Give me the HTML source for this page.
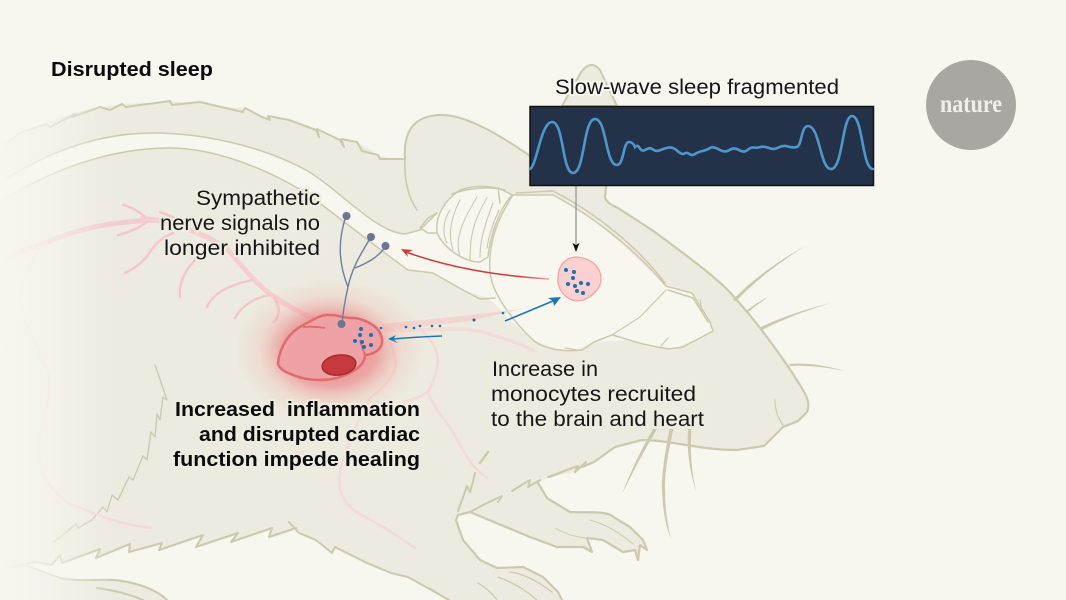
<!DOCTYPE html>
<html><head><meta charset="utf-8"><style>html,body{margin:0;padding:0;background:#f7f6ef}svg{display:block}text{font-family:"Liberation Sans",sans-serif;fill:#15151a}</style></head><body>
<svg width="1066" height="600" viewBox="0 0 1066 600" xmlns="http://www.w3.org/2000/svg">
<defs>
<linearGradient id="fade" x1="0" x2="1" y1="0" y2="0"><stop offset="0" stop-color="#f7f6ef" stop-opacity="1"/><stop offset=".4" stop-color="#f7f6ef" stop-opacity=".72"/><stop offset="1" stop-color="#f7f6ef" stop-opacity="0"/></linearGradient>
<radialGradient id="glow"><stop offset="0" stop-color="#e8696c" stop-opacity=".9"/><stop offset=".5" stop-color="#ea8386" stop-opacity=".65"/><stop offset=".75" stop-color="#eeb0a8" stop-opacity=".25"/><stop offset="1" stop-color="#eeb0a8" stop-opacity="0"/></radialGradient>
<linearGradient id="redl" gradientUnits="userSpaceOnUse" x1="401" y1="250" x2="549" y2="279"><stop offset="0" stop-color="#cc3a3a"/><stop offset=".8" stop-color="#cc3a3a"/><stop offset="1" stop-color="#eba5a0"/></linearGradient>
</defs>
<rect width="1066" height="600" fill="#f7f6ef"/>

<!-- far ear -->
<path d="M562,106 L580,74 Q590,58 600,70 L617,106 Z" fill="#edebdf" stroke="#cdc9ae" stroke-width="2"/>

<!-- body -->
<path fill="#edebdf" d="M0,148 L20,132 48,122 73,113 100,107 122,104 170,102 200,102 221,107 245,108 262,117 289,120 316,130 340,140 357,142 378,155 391,159 405,159 C405,130 415,115 442,115 C470,115 510,142 533,155 L606,187 605,197 Q606,203 618,208 L652,230 C690,258 720,280 734,297 C760,325 790,368 803,390 Q811,403 807,412 L798,421 783,427 764,446 737,450 C700,450 670,440 642,440 L615,447 594,462 582,467 575,472 548,477 538,483 547,498 570,512 C590,513 607,510 615,518 L630,527 643,540 647,550 640,545 638,560 635,550 623,552 603,540 587,538 592,552 583,547 557,547 530,537 470,512 458,515 456,520 463,540 480,560 497,568 523,567 543,577 558,592 562,600 L449,600 408,577 391,573 367,563 335,549 332,553 316,540 299,533 289,524 296,528 269,537 272,528 231,542 238,533 196,547 203,535 159,550 162,543 129,552 130,544 96,558 100,549 62,563 60,555 52,565 35,562 25,565 60,578 C80,582 100,579 113,580 C130,581 155,588 167,600 L0,600 Z"/>

<!-- white band + brain -->
<path fill="#f7f6ef" d="M0,183 C50,150 100,133 153,133 C200,133 260,145 306,170 C340,190 375,232 405,234 L420,230 435,215 L460,190 490,186 512,195 553,195 584,213 621,243 662,283 693,293 713,327 713,332 673,349 649,347 628,340 594,342 577,350 560,350 533,340 510,320 490,299 463,290 433,273 408,270 C380,250 340,218 306,193 C260,165 210,148 170,148 C110,148 50,170 0,202 Z"/>

<!-- fur and body outlines -->
<g fill="none" stroke="#cdc9ae" stroke-width="2" stroke-linejoin="round" stroke-linecap="round">
<path d="M0,148 L20,133 46,124 50,127 75,114 72,117 100,107 110,110 122,104 126,107 170,101 172,105 200,102 221,107 243,112 245,108 262,117 270,120 268,116 289,120 316,130 319,137 317,129 340,140 344,147 341,139 357,142 362,151 378,155 380,159 391,159 405,159 C403,130 415,115 442,115 C470,115 510,142 533,158"/>
<path d="M405,159 C404,180 408,197 417,210" stroke-width="1.6"/>
<path d="M606,187 L605,197 Q606,203 618,208 L652,230 C690,258 720,280 734,297 C760,325 790,368 803,390 Q811,403 807,412 L798,421 783,427 764,446 737,450 C700,450 670,440 642,440 L615,447 594,462 582,467 586,462 575,472 578,466 548,477" stroke-width="2.200"/>
<path d="M775,400 Q775,414 783,425" stroke-width="1.2"/>
<path d="M538,483 L547,498 570,512 C590,513 607,510 615,518 L630,527 643,540 647,550 640,545 638,560 635,550 623,552 603,540 587,538 592,552 583,547 557,547 530,537 470,512 458,515 456,520 463,540 480,560 497,568 523,567 543,577 558,592 562,600" stroke-width="2.200"/>
<path d="M475,473 L472,485 470,492 467,486 458,511 M470,512 L487,503 502,496 498,502 M512,491 L530,480 528,487 540,480 M550,477 L567,470"/>
<path d="M488,452 L480,463" stroke-width="2.400"/>
<path d="M590,520 Q612,526 633,544 M555,528 Q572,538 590,538" stroke-width="1"/>
<path d="M510,572 Q528,574 552,592 M498,577 Q520,585 537,600 M478,583 Q490,590 497,600 M430,588 L448,600" stroke-width="1.300"/>
<path d="M449,600 L408,577 391,573 367,563 335,547 332,553 316,540 299,533 289,522 M296,528 L269,537 272,528 231,542 238,533 196,547 203,535 159,550 162,543 129,552 130,544 96,558 100,549 62,563 60,555 52,565 35,562 10,568 0,563"/>
<path d="M25,565 L60,578 C80,582 100,579 113,580 C130,581 155,588 167,600 M97,588 Q125,592 143,600"/>
<path d="M155,365 L163,388 167,400 163,397 160,420 157,414 155,437 151,432 147,460 143,456 133,480 129,477 118,500 112,495 107,512 103,507 92,520 L78,528 76,524 54,542" stroke-width="1.400"/>
<!-- band -->
<path d="M0,183 C50,150 100,133 153,133 C200,133 260,145 306,170 C340,190 375,232 405,234 L420,230 437,213" stroke-width="1.500"/>
<path d="M0,202 C50,170 110,148 170,148 C210,148 260,165 306,193 C340,218 380,250 408,270 L433,273 463,290 480,299 495,298" stroke-width="1.500"/>
</g>

<!-- brain lines -->
<g fill="none" stroke="#cdc9ae" stroke-width="1.500" stroke-linejoin="round" stroke-linecap="round">
<path d="M513,195 C500,215 488,240 490,270 C490,290 510,318 533,340 C545,350 565,352 582,350 L594,342 612,335 C625,338 640,345 669,349 L683,347 713,331 710,322 692,293 666,286 C640,255 600,220 553,195 L513,195"/>
<path d="M516,193 L553,191 C600,215 640,250 665,283 M668,290 L693,298 708,322"/>
<path d="M666,290 L640,317 612,335 M661,346 L668,338 M577,350 L565,348 M700,300 L702,312" stroke-width="1.200"/>
<path d="M437,233 C435,215 445,200 460,190 C475,185 495,184 512,195 C500,208 490,235 488,257 L480,262 C465,262 445,250 437,233 Z" fill="#f7f6ef"/>
<path d="M420,228 L428,218 437,213 M420,228 L428,233 437,233 M452,194 C468,188 490,186 505,190 M498,188 L500,203"/>
<path d="M460,200 C450,220 448,235 453,250 M477,197 C460,225 455,240 460,257 M487,198 C472,222 470,240 470,260 M493,203 C482,232 480,245 480,257 M450,210 C442,222 443,235 447,243 M499,210 C492,225 488,240 487,248" stroke-width="1.100"/>
</g>

<!-- whiskers -->
<g fill="#cdc9ae">
<path d="M733,299.500 Q762,270 805,246 Q764,272 735.500,301.500 Z"/>
<path d="M746,311 Q756,303 768,297 Q757,305 747.500,312.500 Z"/>
<path d="M761,327 Q790,313 831,303 Q791,315 762,330 Z"/>
<path d="M789,364 Q815,362 844,371 Q815,364.500 790,366 Z"/>
<path d="M653,429 Q634,462 622,494 Q637,463 657,429 Z"/>
<path d="M669.500,429 Q661,473 662,490 Q663,520 671,539 Q665,515 665,490 Q664,470 673.500,429 Z"/>
<path d="M688,429 Q686,460 696,491 Q689,460 691.500,429 Z"/>
</g>

<!-- vessels -->
<g fill="none" stroke="#f6d0cf" stroke-linecap="round" stroke-linejoin="round">
<path d="M5,260 C20,250 25,250 40,245 C70,232 100,222 157,220" stroke-width="5" stroke="#f4cccd"/>
<path d="M143,218 Q170,222 190,230 Q212,238 228,250 C245,270 258,285 269,293 C285,305 300,312 320,322" stroke-width="5" stroke="#f4cfcf"/>
<g stroke-width="2.400" stroke="#f4c6c8">
<path d="M123,205 Q135,208 145,217 M118,235 Q133,232 147,222 M160,212 L173,217"/>
<path d="M125,273 Q142,265 150,252 Q157,240 173,233"/>
<path d="M180,297 Q178,278 195,260"/>
<path d="M207,307 Q215,288 252,280"/>
<path d="M235,318 Q245,300 269,295"/>
<path d="M274,322 Q283,312 275,300"/>
</g>
<g stroke="#f3dad5">
<path d="M40,247 Q25,270 20,295 C20,320 40,350 49,375 C52,400 40,425 39,445 C39,470 45,485 68,503 C90,512 120,525 151,528" stroke-width="2.500"/>
<path d="M25,257 Q8,270 3,285 M0,333 Q8,365 8,400" stroke-width="2"/>
<path d="M384,331 Q430,329 467,329 Q500,335 533,350" stroke-width="3.500" stroke="#f3dcd6"/>
<path d="M421,330 Q438,345 438,362 Q436,378 428,392 Q415,400 403,402 M428,392 Q432,405 450,427 Q460,445 467,457 Q475,470 487,478" stroke-width="2.600"/>
<path d="M390,343 Q398,358 395,370 Q388,385 370,398 Q355,425 345,455 Q337,475 340,490 Q345,505 358,513 Q385,527 415,548" stroke-width="2.600"/>
<path d="M303,452 L265,466" stroke-width="2.200"/>
</g>
</g>
<path d="M382,324 L467,315.500 L522,309 L467,321.500 L382,331 Z" fill="#f2d5cf"/>

<!-- left fade -->
<rect x="0" y="0" width="115" height="600" fill="url(#fade)"/>

<!-- glow -->
<ellipse cx="330" cy="350" rx="96" ry="72" fill="url(#glow)"/>

<!-- heart -->
<path d="M278,363 C280,345 290,332 303,325 C312,321 320,314 330,315 C340,315 345,319 355,318 C366,320 375,325 379,331 Q384,340 381,346 C378,352 370,355 365,355 C365,363 358,370 343,376 C330,381 310,382 293,375 C285,372 278,368 278,363 Z" fill="#efa2a5" stroke="#e06a6d" stroke-width="2.500" stroke-linejoin="round"/>
<path d="M303,327 Q315,326 325,328 M365,355 Q361,345 360,340" fill="none" stroke="#e06a6d" stroke-width="1.800"/>
<ellipse cx="339" cy="365" rx="17" ry="10" transform="rotate(-8 339 365)" fill="#c6393d" stroke="#a52a2e" stroke-width="1.400"/>

<!-- nerves -->
<g fill="none" stroke="#6f7e9c" stroke-width="1.400">
<path d="M346,216 C338,240 338,262 348,287"/>
<path d="M371,237 C360,255 352,268 348,287 C345,300 343,312 342,324"/>
<path d="M386,246 C378,258 365,264 355,268"/>
</g>
<g fill="#6b7690"><circle cx="346.500" cy="216" r="4"/><circle cx="371" cy="237" r="4"/><circle cx="385.500" cy="246" r="4"/><circle cx="341.500" cy="324" r="4"/></g>

<!-- dots -->
<g fill="#1a70b6">
<circle cx="361" cy="329" r="2"/><circle cx="360" cy="335" r="2"/><circle cx="371" cy="335" r="2"/><circle cx="355" cy="341" r="2"/><circle cx="362" cy="342" r="2"/><circle cx="364" cy="347" r="2"/><circle cx="371" cy="345" r="2"/>
<circle cx="381" cy="328" r="1.300"/><circle cx="406" cy="327" r="1.300"/><circle cx="414" cy="328" r="1.300"/><circle cx="420" cy="326" r="1.300"/><circle cx="432" cy="326" r="1.300"/><circle cx="440" cy="326" r="1.300"/><circle cx="474" cy="320" r="1.500" fill="#2a5f8e"/><circle cx="503" cy="313" r="1.300"/>
</g>

<!-- brain nucleus -->
<path d="M558,278 C558,265 566,257 577,257 C590,258 601,266 601,279 C601,290 588,301 577,301 C566,300 557,290 558,278 Z" fill="#fbd0d0" stroke="#f0a5a8" stroke-width="1.300"/>
<g fill="#1a70b6"><circle cx="566" cy="270" r="2"/><circle cx="574" cy="272" r="2"/><circle cx="573" cy="278" r="2"/><circle cx="581" cy="283" r="2"/><circle cx="588" cy="284" r="2"/><circle cx="568" cy="284" r="2"/><circle cx="575" cy="286" r="2"/><circle cx="577" cy="291" r="2"/><circle cx="583" cy="293" r="2"/></g>

<!-- arrows -->
<path d="M549,279 C500,276 450,268 406,252" fill="none" stroke="url(#redl)" stroke-width="1.500"/>
<path d="M401,249 L413,250 L407,253 L408,257 Z" fill="#cc3a3a"/>
<path d="M505,321 L553,301" fill="none" stroke="#1c74b8" stroke-width="1.500"/>
<path d="M561,297 L548,298 L553,301 L554,306 Z" fill="#1c74b8"/>
<path d="M442,336 Q415,337 393,339" fill="none" stroke="#1c74b8" stroke-width="1.500"/>
<path d="M388,339 L396,335 L393,339 L398,343 Z" fill="#1c74b8"/>
<path d="M576,186 L576,246" fill="none" stroke="#8e8e8a" stroke-width="1.200"/>
<path d="M576,252 L572.500,243 L576,245 L579.500,243 Z" fill="#111"/>

<!-- EEG box -->
<rect x="530" y="106.500" width="343.500" height="79" fill="#233249" stroke="#111" stroke-width="1.500"/>
<path d="M530,169 C537,165 541,122 552,122 C564,122 562,173 573,173 C585,173 583,119 595,119 C607,119 605,165 617,165 C624,165 623,142 629,142 Q633,142 635,147 Q636,146 636.500,146 Q638,145 640,148.500 Q642,152 646,149.500 Q650,147 653,149.500 Q656,152 660.500,150 Q665,148 669,147.500 Q673,147 677.500,151 Q682,155 684.500,153.500 Q687,152 689.500,154 Q692,156 695,154 Q698,152 702.500,151 Q707,150 710,148 Q713,146 719,149.500 Q725,153 729.500,150 Q734,147 739,150 Q744,153 747.500,150 Q751,147 754,147.500 Q757,148 760.500,147 Q764,146 769,148 Q774,150 778.500,147.500 Q783,145 788,146.500 Q793,148 797,147 C802,145 801,126 808,126 C820,126 820,169 831,169 C843,169 842,116 852,116 C863,116 862,169 873,169" fill="none" stroke="#4e97cc" stroke-width="2.600" stroke-linecap="round"/>

<!-- logo -->
<circle cx="971" cy="105" r="45" fill="#a9a7a2"/>
<text x="940" y="112" textLength="62" lengthAdjust="spacingAndGlyphs" font-size="25" font-weight="700" style="font-family:'Liberation Serif',serif;fill:#f1efe9">nature</text>

<!-- labels -->
<g font-size="21">
<text x="555" y="94" textLength="284" lengthAdjust="spacingAndGlyphs" stroke="#f7f6ef" stroke-width="4" paint-order="stroke">Slow-wave sleep fragmented</text>
<g stroke="#eeecdf" stroke-width="4" paint-order="stroke">
<text x="196" y="205" textLength="124" lengthAdjust="spacingAndGlyphs">Sympathetic</text>
<text x="160" y="230" textLength="160" lengthAdjust="spacingAndGlyphs">nerve signals no</text>
<text x="164" y="255" textLength="156" lengthAdjust="spacingAndGlyphs">longer inhibited</text>
<text x="492" y="376" textLength="106" lengthAdjust="spacingAndGlyphs">Increase in</text>
<text x="491" y="401" textLength="205" lengthAdjust="spacingAndGlyphs">monocytes recruited</text>
<text x="491" y="426" textLength="213" lengthAdjust="spacingAndGlyphs">to the brain and heart</text>
</g>
</g>
<g font-size="20" font-weight="700">
<text x="51" y="76" textLength="162" lengthAdjust="spacingAndGlyphs" style="fill:#0b0b0f">Disrupted sleep</text>
<g stroke="#eeecdf" stroke-width="4" paint-order="stroke">
<text x="175" y="416" textLength="245" lengthAdjust="spacingAndGlyphs" xml:space="preserve" style="fill:#0b0b0f">Increased  inflammation</text>
<text x="199" y="441" textLength="221" lengthAdjust="spacingAndGlyphs" style="fill:#0b0b0f">and disrupted cardiac</text>
<text x="173" y="466" textLength="247" lengthAdjust="spacingAndGlyphs" style="fill:#0b0b0f">function impede healing</text>
</g>
</g>
</svg>
</body></html>
